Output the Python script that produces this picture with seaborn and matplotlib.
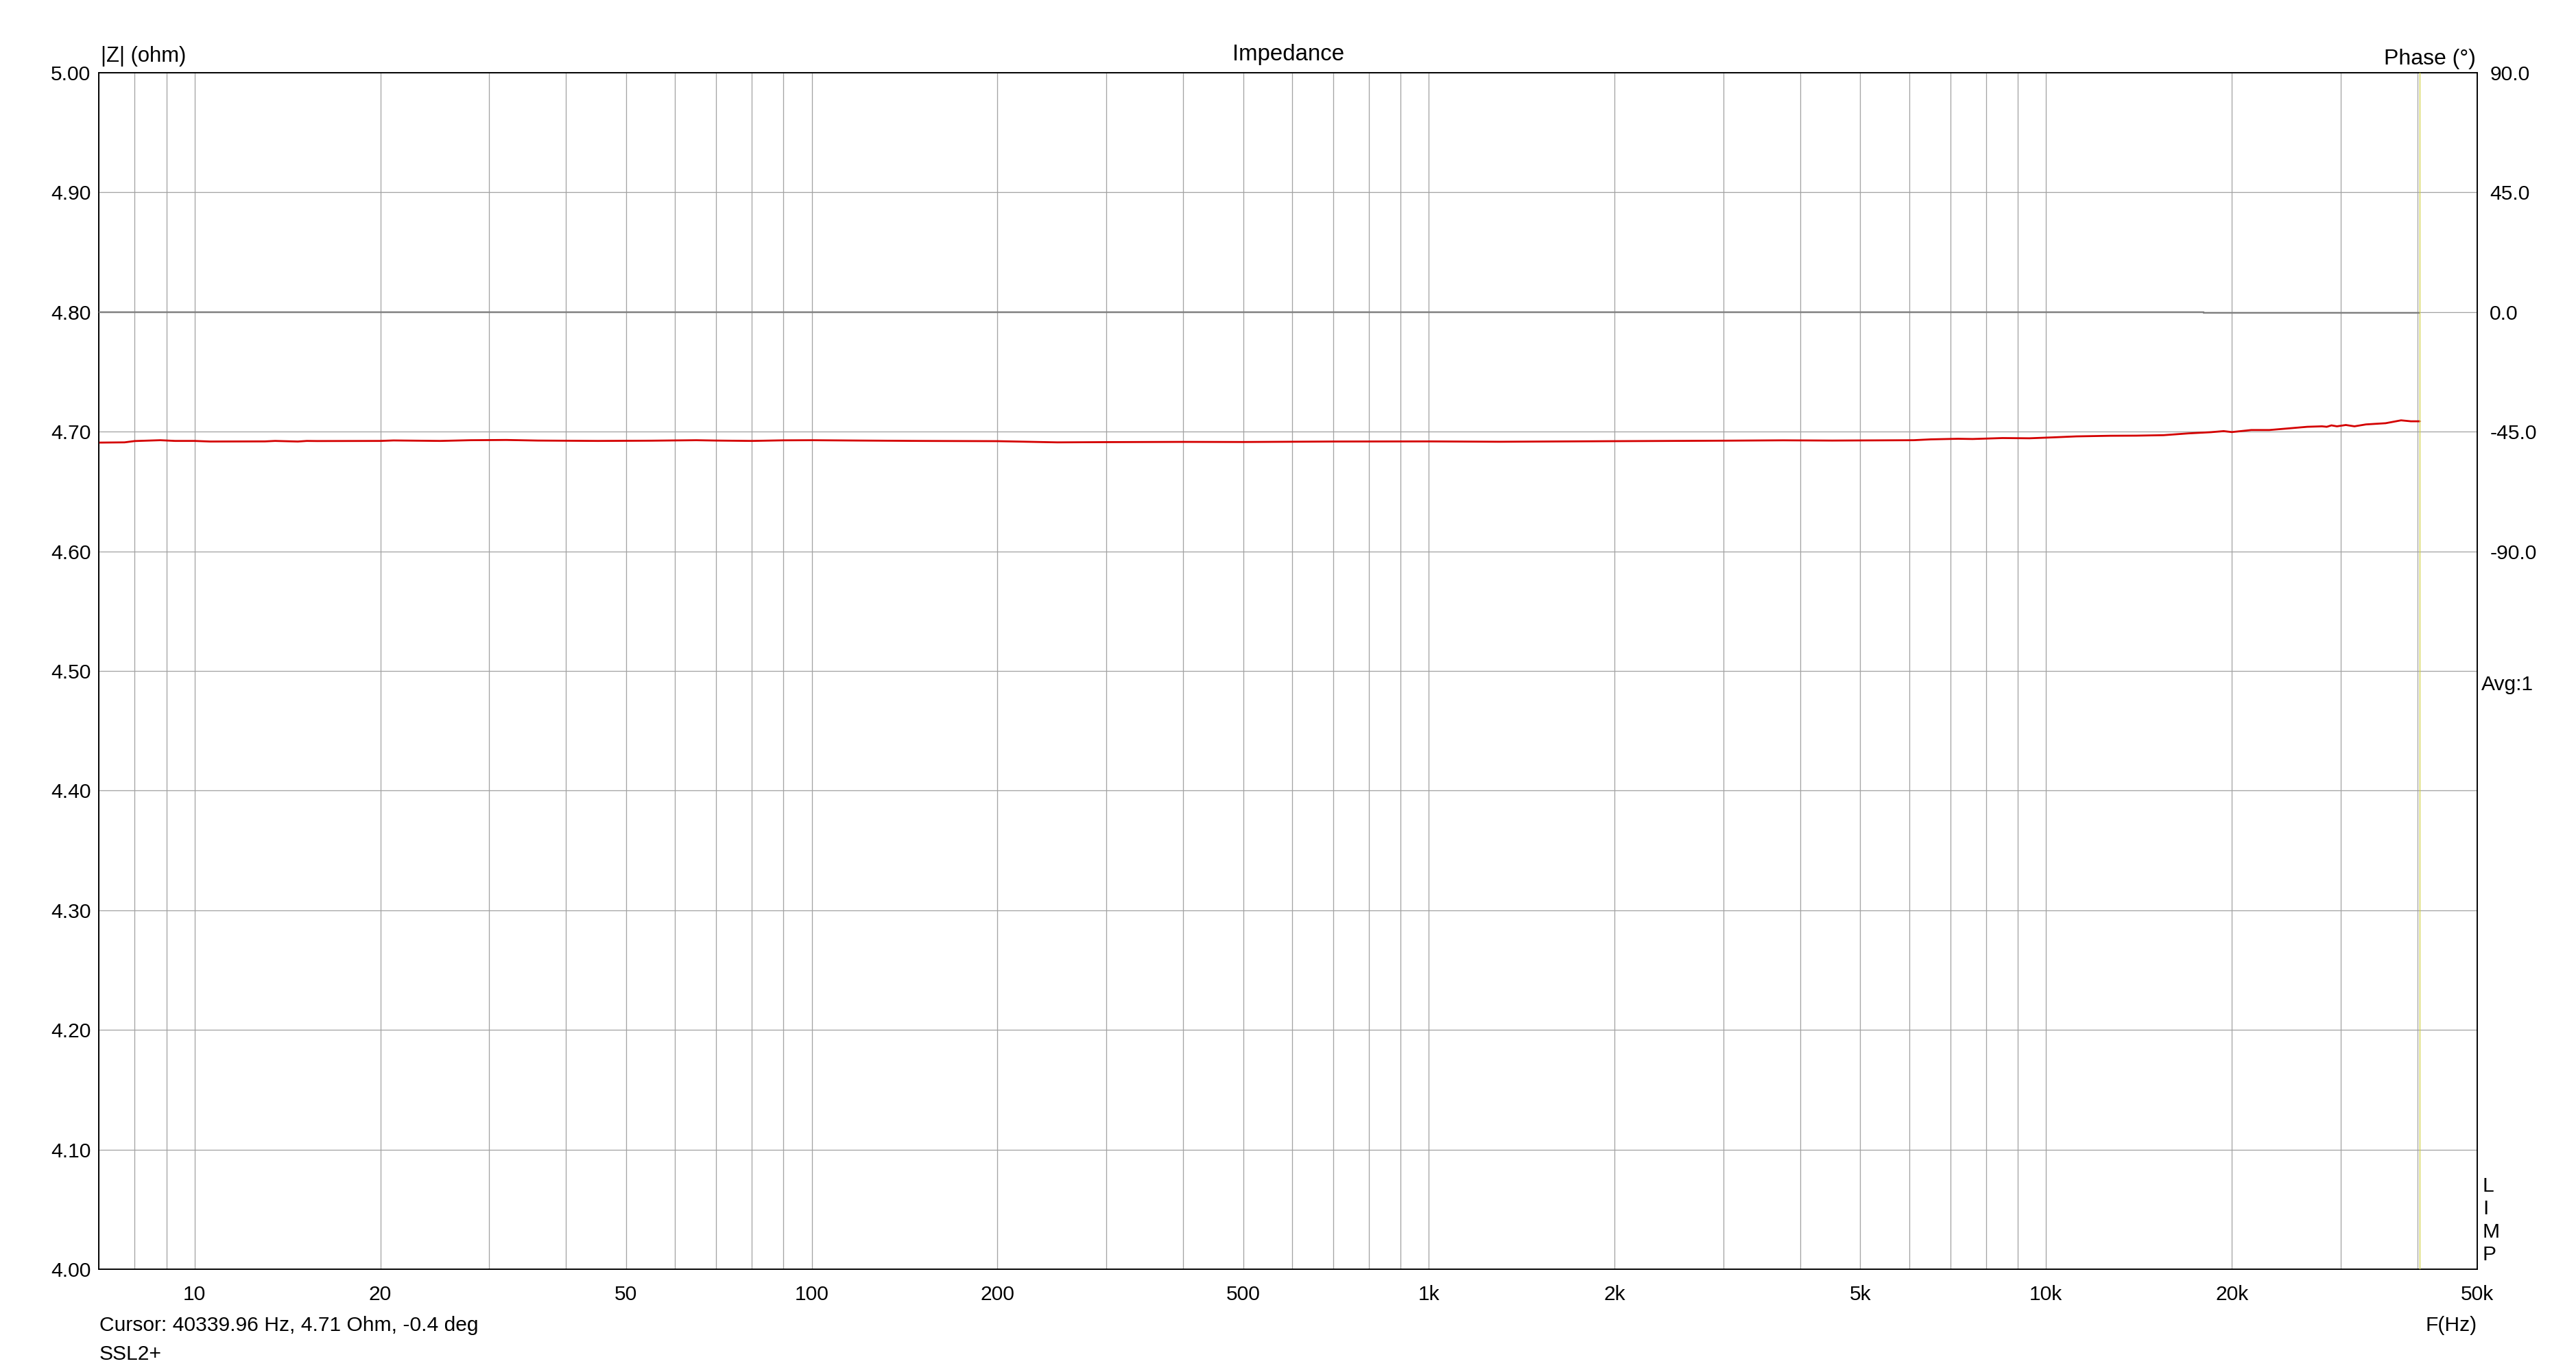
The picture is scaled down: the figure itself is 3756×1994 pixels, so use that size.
import numpy as np
import pandas as pd
import matplotlib
matplotlib.use("Agg")
import matplotlib.pyplot as plt
import seaborn as sns

# ---------------- data ----------------
freq_hz = [7.0, 7.7, 8.0, 8.8, 9.3, 10.0, 10.6, 13.0, 13.5, 14.7, 15.2, 15.8,
           20.0, 21.0, 25.0, 28.0, 32.0, 36.0, 45.0, 55.0, 65.0, 70.0, 80.0,
           90.0, 100.0, 120.0, 150.0, 200.0, 250.0, 300.0, 400.0, 500.0,
           700.0, 1000.0, 1300.0, 2000.0, 3000.0, 3750.0, 4500.0, 6100.0,
           6500.0, 7200.0, 7600.0, 8500.0, 9400.0, 10300.0, 11200.0, 12700.0,
           14000.0, 15500.0, 17000.0, 18500.0, 19400.0, 20000.0, 21500.0,
           23000.0, 24500.0, 26500.0, 28000.0, 28500.0, 29000.0, 29600.0,
           30600.0, 31600.0, 33000.0, 35500.0, 37600.0, 39000.0, 40340.0]
impedance_ohm = [4.6908, 4.6910, 4.6921, 4.6928, 4.6922, 4.6922, 4.6917, 4.6918,
                 4.6922, 4.6917, 4.6922, 4.6921, 4.6922, 4.6926, 4.6922, 4.6928,
                 4.6930, 4.6925, 4.6922, 4.6924, 4.6928, 4.6925, 4.6922, 4.6927,
                 4.6928, 4.6925, 4.6922, 4.6920, 4.6910, 4.6912, 4.6914, 4.6913,
                 4.6917, 4.6918, 4.6915, 4.6920, 4.6924, 4.6927, 4.6925, 4.6928,
                 4.6935, 4.6940, 4.6938, 4.6946, 4.6944, 4.6952, 4.6960, 4.6965,
                 4.6966, 4.6970, 4.6985, 4.6995, 4.7004, 4.6996, 4.7013, 4.7013,
                 4.7025, 4.7040, 4.7044, 4.7040, 4.7052, 4.7044, 4.7055, 4.7044,
                 4.7060, 4.7070, 4.7094, 4.7086, 4.7086]

phase_freq_hz = [7.0, 18000.0, 37600.0, 40340.0]
phase_deg = [0.0, -0.25, -0.45, -0.45]

cursor_hz = 40339.96

x_tick_values = [10, 20, 50, 100, 200, 500, 1000, 2000, 5000, 10000, 20000, 50000]
x_tick_labels = ["10", "20", "50", "100", "200", "500", "1k", "2k", "5k", "10k", "20k", "50k"]
y_left_ticks = [4.0, 4.1, 4.2, 4.3, 4.4, 4.5, 4.6, 4.7, 4.8, 4.9, 5.0]
y_right_ticks = [90.0, 45.0, 0.0, -45.0, -90.0]

# ---------------- style ----------------
sns.set_theme(style="white")
plt.rcParams['font.family'] = ['Liberation Sans', 'DejaVu Sans']

W_PX, H_PX, DPI = 3756, 1994, 72
fig = plt.figure(figsize=(W_PX / DPI, H_PX / DPI), dpi=DPI)
fig.patch.set_facecolor("white")

ax_l, ax_r, ax_t, ax_b = 144.3, 3612.3, 105.7, 1850.3
ax = fig.add_axes([ax_l / W_PX, 1 - ax_b / H_PX, (ax_r - ax_l) / W_PX, (ax_b - ax_t) / H_PX])
ax.set_facecolor("white")
ax.set_xscale("log")

GRID = "#a3a3a3"
grid_x = []
for dec in [1, 10, 100, 1000, 10000]:
    for m in range(1, 10):
        v = m * dec
        if 7 <= v <= 50000:
            grid_x.append(v)
grid_x.append(50000)
grid_x = sorted(set(grid_x))
lab_map = dict(zip(x_tick_values, x_tick_labels))

ax.set_xlim(7, 50000)
ax.set_ylim(4.0, 5.0)
ax.set_xticks(grid_x)
ax.set_xticklabels([lab_map.get(v, "") for v in grid_x])
ax.xaxis.set_minor_locator(matplotlib.ticker.NullLocator())
ax.set_yticks(y_left_ticks)
ax.set_yticklabels([f"{v:.2f}" for v in y_left_ticks])
ax.grid(True, which="major", color=GRID, linewidth=1.3)
ax.set_axisbelow(True)
ax.tick_params(axis="x", length=0, pad=23, labelsize=30, colors="black")
ax.tick_params(axis="y", length=0, pad=12, labelsize=30, colors="black")

df_z = pd.DataFrame({"freq": freq_hz, "z": impedance_ohm})
sns.lineplot(data=df_z, x="freq", y="z", ax=ax, color="#d40000", linewidth=2.8, zorder=4)
ax.set_xlabel("")
ax.set_ylabel("")

ax2 = ax.twinx()
ax2.set_ylim(-360, 90)
ax2.set_xlim(7, 50000)
df_p = pd.DataFrame({"freq": phase_freq_hz, "phase": phase_deg})
sns.lineplot(data=df_p, x="freq", y="phase", ax=ax2, color="#7f7f7f", linewidth=2.4,
             drawstyle="steps-post", zorder=3)
ax2.axvline(cursor_hz, color="#d2d24a", linewidth=1.3, zorder=5)
ax2.set_yticks(y_right_ticks)
ax2.set_yticklabels([f"{v:.1f}" for v in y_right_ticks])
ax2.tick_params(axis="y", length=0, pad=18, labelsize=30, colors="black")
ax2.set_xlabel("")
ax2.set_ylabel("")
ax2.grid(False)

for a in (ax, ax2):
    for s in a.spines.values():
        s.set_visible(True)
        s.set_color("black")
        s.set_linewidth(1.6)

# ---------------- text ----------------
def fx(px):
    return px / W_PX

def fy(py):
    return 1 - py / H_PX

fig.text(fx(147), fy(90), "|Z| (ohm)", ha="left", va="baseline", fontsize=31, color="black")
fig.text(fx((ax_l + ax_r) / 2), fy(88), "Impedance", ha="center", va="baseline", fontsize=33, color="black")
fig.text(fx(3610), fy(94), "Phase (°)", ha="right", va="baseline", fontsize=32, color="black")
fig.text(fx(3618), fy(1006), "Avg:1", ha="left", va="baseline", fontsize=30, color="black")
for letter, base in zip("LIMP", [1737, 1770.5, 1804, 1837.3]):
    fig.text(fx(3620), fy(base), letter, ha="left", va="baseline", fontsize=30, color="black")
fig.text(fx(3612), fy(1940), "F(Hz)", ha="right", va="baseline", fontsize=30, color="black")
fig.text(fx(145), fy(1940), "Cursor: 40339.96 Hz, 4.71 Ohm, -0.4 deg", ha="left", va="baseline",
         fontsize=30, color="black")
fig.text(fx(145), fy(1982), "SSL2+", ha="left", va="baseline", fontsize=30, color="black")

fig.savefig("out.png", dpi=DPI, facecolor="white")
